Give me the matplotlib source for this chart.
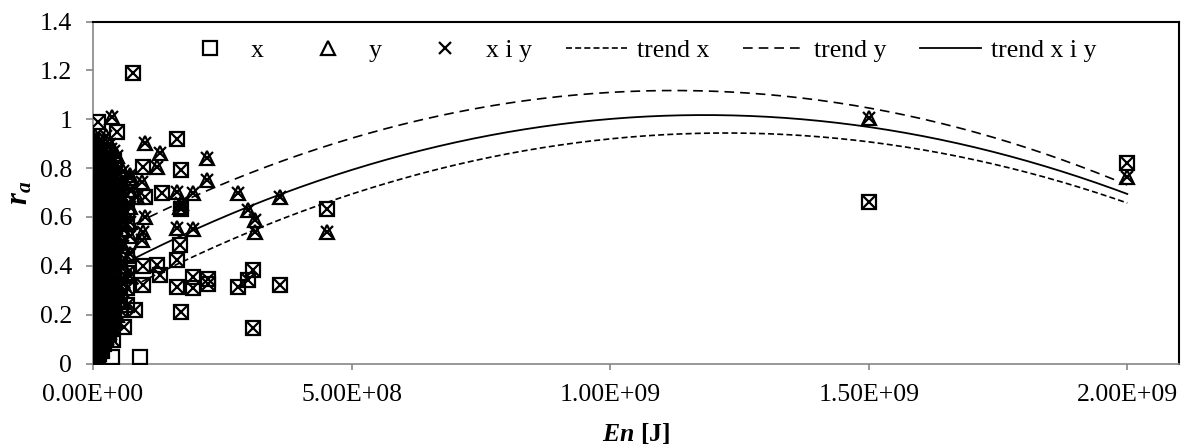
import numpy as np
import matplotlib
matplotlib.use("Agg")
import matplotlib.pyplot as plt
from matplotlib.lines import Line2D
from matplotlib.ticker import FuncFormatter, MultipleLocator

plt.rcParams['font.family'] = 'Liberation Serif'
plt.rcParams['mathtext.fontset'] = 'custom'
plt.rcParams['mathtext.rm'] = 'Liberation Serif'
plt.rcParams['mathtext.it'] = 'Liberation Serif:italic'
plt.rcParams['mathtext.bf'] = 'Liberation Serif:bold'
plt.rcParams['mathtext.bfit'] = 'Liberation Serif:bold:italic'

# --- measurements near the origin (En [J] -> list of r_a) ---
blob_x_En = [0.0, 2e6, 4e6, 6.5e6, 9e6, 1.2e7, 1.5e7, 1.8e7, 2.2e7, 2.6e7, 3.0e7, 3.5e7,
             4.0e7, 5.2e7, 6.5e7]
blob_x_ra = [
    [0.01, 0.04, 0.06, 0.09, 0.13, 0.16, 0.19, 0.22, 0.25, 0.29, 0.32, 0.35, 0.38, 0.42,
     0.45, 0.48, 0.51, 0.55, 0.58, 0.61, 0.64, 0.68, 0.71, 0.74, 0.78, 0.82, 0.86],
    [0.00, 0.03, 0.07, 0.10, 0.14, 0.17, 0.20, 0.23, 0.27, 0.30, 0.33, 0.36, 0.40, 0.44,
     0.46, 0.49, 0.53, 0.57, 0.59, 0.62, 0.66, 0.69, 0.72, 0.76, 0.79, 0.83, 0.88],
    [0.02, 0.05, 0.08, 0.12, 0.15, 0.18, 0.21, 0.24, 0.27, 0.31, 0.34, 0.37, 0.40, 0.43,
     0.47, 0.50, 0.53, 0.56, 0.60, 0.63, 0.66, 0.70, 0.73, 0.77, 0.80],
    [0.01, 0.04, 0.09, 0.13, 0.16, 0.22, 0.25, 0.28, 0.32, 0.35, 0.39, 0.42, 0.45, 0.49,
     0.52, 0.56, 0.61, 0.65, 0.68, 0.74, 0.78, 0.81],
    [0.03, 0.07, 0.11, 0.14, 0.17, 0.20, 0.26, 0.30, 0.33, 0.36, 0.41, 0.44, 0.46, 0.52,
     0.54, 0.59, 0.62, 0.67, 0.72, 0.75, 0.84],
    [0.04, 0.08, 0.12, 0.18, 0.23, 0.27, 0.31, 0.37, 0.40, 0.45, 0.50, 0.55, 0.58, 0.64,
     0.71, 0.77, 0.82],
    [0.06, 0.10, 0.16, 0.21, 0.24, 0.28, 0.34, 0.39, 0.43, 0.49, 0.57, 0.61, 0.65, 0.69,
     0.76, 0.79],
    [0.05, 0.11, 0.15, 0.20, 0.26, 0.32, 0.36, 0.42, 0.47, 0.53, 0.60, 0.67, 0.72, 0.78],
    [0.08, 0.13, 0.19, 0.25, 0.30, 0.35, 0.40, 0.46, 0.52, 0.58, 0.63, 0.70, 0.74, 0.81],
    [0.10, 0.16, 0.22, 0.28, 0.34, 0.41, 0.48, 0.54, 0.61, 0.68, 0.75],
    [0.12, 0.18, 0.27, 0.33, 0.37, 0.44, 0.50, 0.56, 0.62, 0.67, 0.72, 0.78],
    [0.14, 0.21, 0.30, 0.39, 0.47, 0.53, 0.64, 0.70, 0.80],
    [0.17, 0.23, 0.29, 0.36, 0.42, 0.48, 0.55, 0.60, 0.66, 0.71, 0.83],
    [0.22, 0.26, 0.32, 0.38, 0.45, 0.53, 0.59, 0.64, 0.75],
    [0.24, 0.31, 0.37, 0.44, 0.57, 0.62, 0.69],
]
blob_y_En = [1e6, 3e6, 6e6, 9e6, 1.2e7, 1.55e7, 1.9e7, 2.25e7, 2.6e7, 3.0e7, 3.5e7, 4.0e7,
             4.6e7, 5.8e7, 7.2e7]
blob_y_ra = [
    [0.02, 0.05, 0.08, 0.11, 0.14, 0.17, 0.21, 0.24, 0.27, 0.30, 0.33, 0.37, 0.40, 0.43,
     0.46, 0.49, 0.53, 0.56, 0.59, 0.62, 0.65, 0.69, 0.72, 0.75, 0.78, 0.81, 0.85, 0.88, 0.92],
    [0.01, 0.06, 0.10, 0.13, 0.18, 0.22, 0.25, 0.29, 0.32, 0.36, 0.39, 0.44, 0.48, 0.51,
     0.55, 0.58, 0.63, 0.67, 0.70, 0.73, 0.77, 0.82, 0.86, 0.89, 0.93],
    [0.04, 0.09, 0.12, 0.16, 0.19, 0.23, 0.26, 0.31, 0.35, 0.38, 0.42, 0.45, 0.50, 0.54,
     0.57, 0.61, 0.64, 0.68, 0.71, 0.76, 0.80, 0.83, 0.87, 0.90],
    [0.03, 0.07, 0.13, 0.18, 0.22, 0.25, 0.30, 0.34, 0.37, 0.43, 0.48, 0.52, 0.58, 0.62,
     0.69, 0.72, 0.78, 0.84, 0.88],
    [0.05, 0.10, 0.15, 0.20, 0.27, 0.32, 0.36, 0.41, 0.47, 0.51, 0.55, 0.60, 0.66, 0.70,
     0.74, 0.79, 0.85, 0.89],
    [0.07, 0.12, 0.17, 0.24, 0.29, 0.35, 0.40, 0.45, 0.53, 0.58, 0.64, 0.71, 0.75, 0.81, 0.87],
    [0.09, 0.14, 0.22, 0.28, 0.33, 0.39, 0.44, 0.50, 0.56, 0.63, 0.67, 0.73, 0.77, 0.82, 0.86],
    [0.10, 0.16, 0.21, 0.30, 0.37, 0.42, 0.49, 0.55, 0.62, 0.68, 0.74, 0.80, 0.90],
    [0.11, 0.18, 0.26, 0.34, 0.41, 0.47, 0.54, 0.60, 0.64, 0.71, 0.76, 0.84, 0.93],
    [0.13, 0.20, 0.28, 0.36, 0.44, 0.50, 0.56, 0.62, 0.70, 0.78, 0.83],
    [0.15, 0.24, 0.31, 0.39, 0.46, 0.52, 0.58, 0.65, 0.69, 0.75, 0.80, 0.88],
    [0.18, 0.27, 0.33, 0.41, 0.49, 0.54, 0.61, 0.66, 0.72, 0.81, 0.87],
    [0.20, 0.29, 0.35, 0.43, 0.51, 0.57, 0.63, 0.68, 0.73, 0.78, 0.85],
    [0.25, 0.33, 0.40, 0.48, 0.55, 0.61, 0.67, 0.74, 0.79],
    [0.36, 0.45, 0.52, 0.58, 0.64, 0.71, 0.76],
]

# --- remaining x measurements ---
x_En = [7.8e7, 1.0e7, 4.6e7, 1.62e8, 9.7e7, 1.71e8, 1.33e8, 1.0e8, 6.5e7, 1.71e8, 4.52e8,
        1.68e8, 1.62e8, 9.7e7, 1.23e8, 1.30e8, 9.7e7, 1.62e8, 1.94e8, 1.94e8, 2.23e8,
        2.23e8, 2.81e8, 3.00e8, 3.10e8, 3.62e8, 1.71e8, 8.1e7, 5.9e7, 3.9e7, 3.10e8,
        1.5e9, 2.0e9]
x_ra = [1.19, 0.99, 0.949, 0.92, 0.806, 0.792, 0.70, 0.683, 0.69, 0.631, 0.631,
        0.485, 0.424, 0.399, 0.403, 0.362, 0.321, 0.314, 0.355, 0.308, 0.345,
        0.325, 0.314, 0.342, 0.383, 0.321, 0.212, 0.219, 0.151, 0.096, 0.144,
        0.66, 0.82]
# x measurements without a combined (x i y) entry
x_only_En = [3.6e7, 9.1e7]
x_only_ra = [0.028, 0.028]

# --- remaining y measurements ---
y_En = [3.6e7, 1.35e7, 3.3e7, 1.0e8, 1.30e8, 1.23e8, 2.20e8, 2.20e8, 1.62e8, 1.93e8,
        1.71e8, 1.68e8, 2.81e8, 3.00e8, 3.13e8, 3.13e8, 3.62e8, 4.52e8, 1.62e8, 1.93e8,
        9.4e7, 7.2e7, 1.0e8, 9.7e7, 9.4e7, 8.5e7, 1.5e9, 2.0e9]
y_ra = [1.01, 0.915, 0.90, 0.901, 0.860, 0.806, 0.840, 0.751, 0.703, 0.699,
        0.656, 0.64, 0.699, 0.628, 0.587, 0.540, 0.683, 0.540, 0.553, 0.549,
        0.744, 0.772, 0.601, 0.540, 0.506, 0.683, 1.005, 0.765]

# quadratic trend coefficients, En in 1e9 J: c2, c1, c0
trend_x_coef = [-0.4765, 1.167, 0.229]
trend_y_coef = [-0.503, 1.130, 0.4828]
trend_xy_coef = [-0.483, 1.142, 0.342]
trend_En = [0.0, 2.0e9]

x_ticks = [0, 5e8, 1e9, 1.5e9, 2e9]


def flatten(En_cols, ra_cols):
    En, ra = [], []
    for e, col in zip(En_cols, ra_cols):
        En += [e] * len(col)
        ra += col
    return En, ra


bx_En, bx_ra = flatten(blob_x_En, blob_x_ra)
by_En, by_ra = flatten(blob_y_En, blob_y_ra)
all_x_En = np.array(bx_En + x_En)
all_x_ra = np.array(bx_ra + x_ra)
all_y_En = np.array(by_En + y_En)
all_y_ra = np.array(by_ra + y_ra)
xy_En = np.concatenate([all_x_En, all_y_En])
xy_ra = np.concatenate([all_x_ra, all_y_ra])

fig = plt.figure(figsize=(11.85, 4.46), dpi=100)
ax = fig.add_axes([93 / 1185, 82.5 / 446, 1086 / 1185, 342 / 446])

mk = dict(linestyle='none', markerfacecolor='none', markeredgecolor='black', markeredgewidth=1.6)
sq_size, tri_size, x_size = 10, 10, 9

En_line = np.linspace(trend_En[0], trend_En[1], 300)
t = En_line / 1e9
ax.plot(En_line, np.polyval(trend_x_coef, t), color='black', lw=1.2, dashes=(3.6, 1.9), zorder=2)
ax.plot(En_line, np.polyval(trend_y_coef, t), color='black', lw=1.2, dashes=(5.8, 3.6), zorder=2)
ax.plot(En_line, np.polyval(trend_xy_coef, t), color='black', lw=1.3, zorder=2)

ax.plot(np.concatenate([all_x_En, x_only_En]), np.concatenate([all_x_ra, x_only_ra]),
        marker='s', markersize=sq_size, zorder=3, **mk)
ax.plot(all_y_En, all_y_ra, marker='^', markersize=tri_size, zorder=3, **mk)
ax.plot(xy_En, xy_ra, marker='x', markersize=x_size, zorder=4, **mk)

ax.set_xlim(0, 2.1e9)
ax.set_ylim(0, 1.4)
ax.set_xticks(x_ticks)
ax.xaxis.set_major_formatter(FuncFormatter(lambda v, p: f"{v:.2E}"))
ax.yaxis.set_major_locator(MultipleLocator(0.2))
ax.yaxis.set_major_formatter(FuncFormatter(lambda v, p: f"{v:g}"))

for side in ('left', 'bottom'):
    ax.spines[side].set_color('#868686')
    ax.spines[side].set_linewidth(1.2)
for side in ('top', 'right'):
    ax.spines[side].set_color('black')
    ax.spines[side].set_linewidth(1.5)
ax.tick_params(axis='both', colors='#868686', labelcolor='black', labelsize=18.5, width=1.2)
ax.tick_params(axis='y', length=5, pad=10)
ax.tick_params(axis='x', length=4.5, pad=10)
ax.tick_params(top=False, right=False)

ax.set_xlabel(r'$\mathbfit{En}$ [J]', fontsize=18.5, fontweight='bold', labelpad=11)
ax.set_ylabel(r'$\mathbfit{r}_\mathbfit{a}$', fontsize=22, labelpad=4)

handles = [
    Line2D([], [], marker='s', markersize=sq_size, **mk),
    Line2D([], [], marker='^', markersize=tri_size, **mk),
    Line2D([], [], marker='x', markersize=x_size, **mk),
    Line2D([], [], color='black', lw=1.2, dashes=(3.6, 1.9)),
    Line2D([], [], color='black', lw=1.2, dashes=(5.8, 3.6)),
    Line2D([], [], color='black', lw=1.3),
]
labels = ['x', 'y', 'x i y', 'trend x', 'trend y', 'trend x i y']
ax.legend(handles, labels, ncol=6, frameon=False, loc='center',
          bbox_to_anchor=(0.502, 0.914), fontsize=18.5, handlelength=2.37,
          handletextpad=0.4, columnspacing=1.31, borderpad=0)

fig.savefig('out.png', dpi=100)
